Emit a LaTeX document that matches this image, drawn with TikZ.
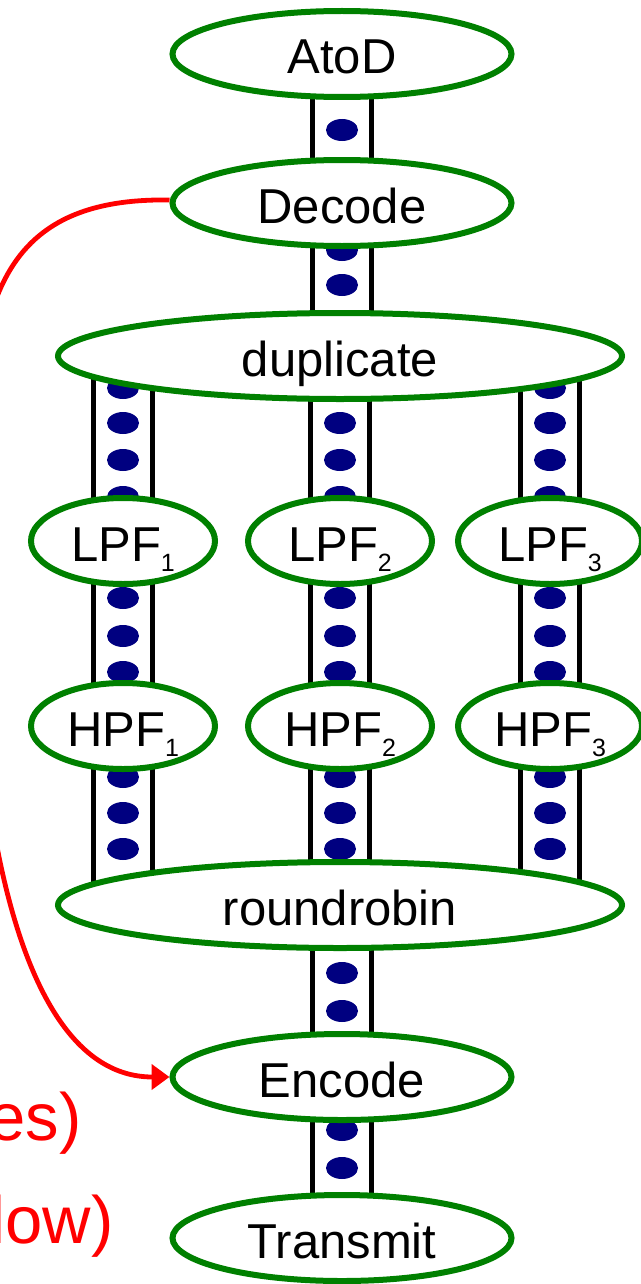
\documentclass[tikz,border=0pt]{standalone}
\usepackage{fontspec}
\setmainfont{Liberation Sans}
\usetikzlibrary{arrows.meta,shapes.geometric,calc}
\definecolor{filtgreen}{RGB}{0,128,0}
\definecolor{itemblue}{RGB}{0,0,128}
\pgfdeclarelayer{back}
\pgfsetlayers{back,main}
\tikzset{
	font=\fontsize{24.5}{28}\selectfont,
	>={Triangle[length=9pt,width=12.5pt]},
	filter/.style={ellipse, draw=filtgreen, line width=3pt, fill=white,
		inner sep=0pt, minimum height=43pt, text height=22pt, text depth=2pt},
	wide/.style={filter, minimum width=169.5pt},
	extrawide/.style={filter, minimum width=282pt},
	small/.style={filter, minimum width=92pt},
	rail/.style={line width=2.4pt},
	item/.style={fill=itemblue},
	flow/.style={draw=red, line width=2.4pt},
	note/.style={text=red, font=\fontsize{33.5}{38}\selectfont, anchor=base east, inner sep=0pt}
}
% small index under a filter name
\newcommand{\idx}[1]{\raisebox{-5pt}{\fontsize{12.5}{14}\selectfont #1}}
% channel: column node, upper node, lower node, rows of items
\newcommand{\stream}[4]{%
	\draw[rail] ($(#1.center |- #2.center)+(-14.75pt,0)$) -- ($(#1.center |- #3.center)+(-14.75pt,0)$);
	\draw[rail] ($(#1.center |- #2.center)+(14.75pt,0)$) -- ($(#1.center |- #3.center)+(14.75pt,0)$);
	\foreach \y in {#4}
		\fill[item] (#1.center |- 0,\y) ellipse [x radius=8pt, y radius=5.5pt];
}

\begin{document}
\begin{tikzpicture}[x=0.5pt, y=-0.5pt]

\useasboundingbox (0,0) rectangle (641,1284);

% filters
\node[wide] (atod) at (342,54) {AtoD};
\node[wide] (dec) at (342,203) {Decode};
\node[extrawide] (dup) at (340,356) {duplicate};

\node[small] (lpf1) at (123,541) {LPF\idx{1}};
\node[small] (lpf2) at (340,541) {LPF\idx{2}};
\node[small] (lpf3) at (550,541) {LPF\idx{3}};

\node[small] (hpf1) at (123,726) {HPF\idx{1}};
\node[small] (hpf2) at (340,726) {HPF\idx{2}};
\node[small] (hpf3) at (550,726) {HPF\idx{3}};

\node[extrawide] (rr) at (340,905) {roundrobin};
\node[wide] (enc) at (342,1077) {Encode};
\node[wide] (tx) at (342,1238) {Transmit};

% channels with their items
\begin{pgfonlayer}{back}
\stream{dec}{atod}{dec}{130}
\stream{dec}{dec}{dup}{250,285}
\stream{lpf1}{dup}{lpf1}{388,423,460,497}
\stream{lpf2}{dup}{lpf2}{388,423,460,497}
\stream{lpf3}{dup}{lpf3}{388,423,460,497}
\stream{lpf1}{lpf1}{hpf1}{598,636,672}
\stream{lpf2}{lpf2}{hpf2}{598,636,672}
\stream{lpf3}{lpf3}{hpf3}{598,636,672}
\stream{hpf1}{hpf1}{rr}{777,813,849}
\stream{hpf2}{hpf2}{rr}{777,813,849}
\stream{hpf3}{hpf3}{rr}{777,813,849}
\stream{enc}{rr}{enc}{973,1011}
\stream{enc}{enc}{tx}{1130,1168}
\end{pgfonlayer}

% message path
\coordinate (bend) at (-28,540);
\draw[flow,->] ([yshift=1.5pt]dec.west) .. controls (-20,197) and (-28,330) .. (bend)
	.. controls (-28,800) and (15,1077) .. (enc.west);

% notes
\node[note] (msgs) at (82,1140) {es)};
\node[note] (dflow) at (114,1243) {low)};

\end{tikzpicture}
\end{document}
